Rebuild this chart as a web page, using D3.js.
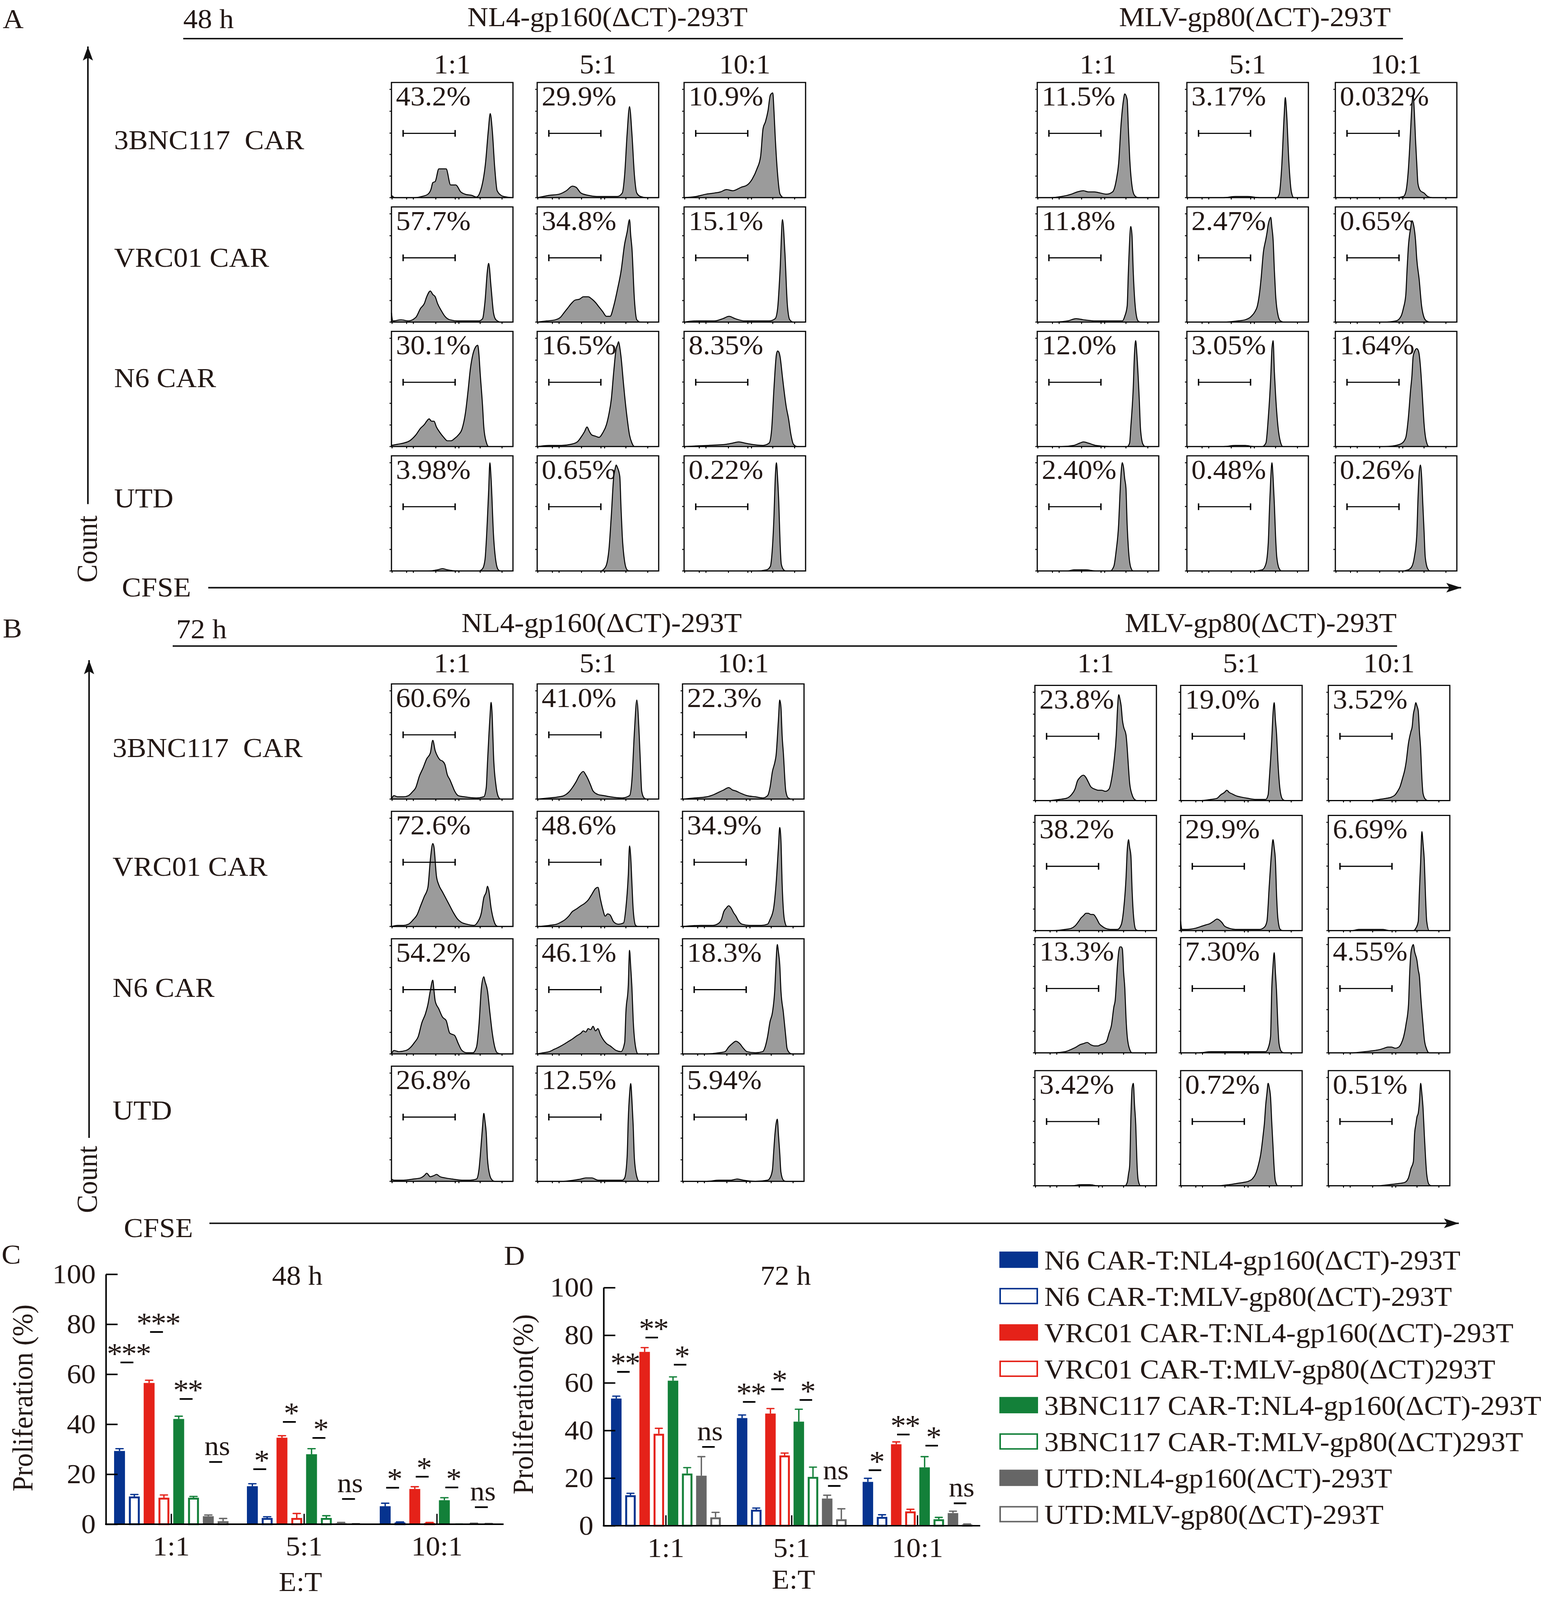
<!DOCTYPE html>
<html>
<head>
<meta charset="utf-8">
<script src="https://cdn.jsdelivr.net/npm/d3@7"></script>
<style>
  html, body { margin: 0; padding: 0; background: #fff; overflow: hidden; }
  svg { display: block; }
  svg text { font-family: "Liberation Serif", "Times New Roman", serif; fill: #231815; white-space: pre; }
</style>
</head>
<body>
<svg id="fig"></svg>
<script>
// ============================================
// Data
// ============================================
const ratios = ['1:1', '5:1', '10:1'];
const targets = ['NL4-gp160(ΔCT)-293T', 'MLV-gp80(ΔCT)-293T'];
const carRows = ['3BNC117  CAR', 'VRC01 CAR', 'N6 CAR', 'UTD'];

// gate percentages, rows = carRows, columns = NL4 1:1,5:1,10:1 then MLV 1:1,5:1,10:1
const pct48 = [
    ['43.2%', '29.9%', '10.9%', '11.5%', '3.17%', '0.032%'],
    ['57.7%', '34.8%', '15.1%', '11.8%', '2.47%', '0.65%'],
    ['30.1%', '16.5%', '8.35%', '12.0%', '3.05%', '1.64%'],
    ['3.98%', '0.65%', '0.22%', '2.40%', '0.48%', '0.26%'],
];
const pct72 = [
    ['60.6%', '41.0%', '22.3%', '23.8%', '19.0%', '3.52%'],
    ['72.6%', '48.6%', '34.9%', '38.2%', '29.9%', '6.69%'],
    ['54.2%', '46.1%', '18.3%', '13.3%', '7.30%', '4.55%'],
    ['26.8%', '12.5%', '5.94%', '3.42%', '0.72%', '0.51%'],
];

// CFSE histograms: [CFSE (0-100 of axis), count (% of frame height)]
const hist48 = [
    [
        [[0,2],[3,0],[19,0],[25,1],[30,3],[32.6,7.5],[34,13],[36,14],[39,25],[45,25],[48.7,11],[53,11],[57,5],[61.5,2.7],[66,2],[70,0.5],[73,5],[77.5,31],[79.7,58],[81.3,73],[83,58],[85,26],[87,6],[91,1.5],[95,0.5],[100,0]],
        [[0,0],[5,1],[10,2],[18,3],[24,6],[29,10],[32,9],[36,4],[42,2],[50,1],[58,1],[66,1],[70,4],[72,20],[74,55],[76,79],[78,55],[80,20],[82,4],[85,1],[90,0],[100,0]],
        [[0,0],[10,1],[18,3],[25,4],[30,5],[35,7],[40,6],[47,9],[52,11],[56,16],[60,25],[63,36],[65,60],[67,66],[69,75],[71,89],[73,91],[74,75],[75,53],[77,20],[79,3],[82,0],[100,0]],
        [[0,0],[10,0],[20,1],[28,3],[33,5],[38,6],[42,5],[47,5],[52,4],[57,3],[62,5],[65,15],[67,30],[69,64],[71,85],[72,90],[74,85],[75,60],[76,36],[78,10],[80,2],[83,0],[100,0]],
        [[0,0],[30,0],[40,1],[50,1],[60,0],[74,0],[76,3],[78,26],[80,70],[81,87],[82,75],[84,30],[86,5],[88,0],[100,0]],
        [[0,0],[50,0],[56,1],[58,5],[60,23],[62,60],[63,80],[64,89],[65,75],[66,50],[67,30],[68,12],[70,6],[73,4],[76,1],[80,0],[100,0]],
    ],
    [
        [[0,8],[1,1],[8,2],[14,1],[20,4],[24,12],[27,16],[29,22],[32,27],[34,24],[36,22],[38,16],[41,10],[44,5],[48,2],[55,1],[65,1],[72,1],[75,3],[77,18],[79,45],[80,51],[82,30],[84,8],[86,2],[90,0],[100,0]],
        [[0,0],[8,1],[15,2],[19,4],[22,8],[25,12],[28,16],[31,19],[35,20],[38,22],[42,22],[45,20],[48,17],[51,13],[54,9],[57,5],[60,5],[63,14],[66,28],[69,44],[72,68],[74,78],[76,89],[77,75],[78,64],[80,20],[82,2],[85,0],[100,0]],
        [[0,0],[10,1],[25,1],[32,3],[37,5],[42,3],[50,1],[60,1],[70,1],[75,3],[77,12],[79,45],[81,89],[83,60],[85,15],[87,2],[90,0],[100,0]],
        [[0,0],[15,0],[25,1],[32,3],[38,2],[48,1],[60,1],[70,1],[72,5],[74,14],[75,44],[77,83],[78,75],[79,44],[81,10],[83,1],[85,0],[100,0]],
        [[0,0],[30,0],[42,1],[48,2],[53,5],[56,9],[58,14],[60,27],[61,37],[63,61],[65,72],[66,78],[67,85],[68,89],[69,91],[70,82],[71,71],[72,45],[73,24],[75,6],[77,1],[80,0],[100,0]],
        [[0,0],[40,0],[50,1],[54,5],[56,12],[58,24],[59,45],[60,64],[62,82],[63,88],[64,86],[66,71],[67,55],[69,37],[71,14],[73,4],[75,1],[78,0],[100,0]],
    ],
    [
        [[0,1],[5,2],[10,3],[15,5],[20,10],[24,16],[27,19],[29,22],[31,24],[33,22],[35,22],[37,17],[40,12],[43,8],[46,5],[49,5],[52,7],[55,10],[58,15],[61,30],[63,48],[65,68],[67,80],[69,86],[71,88],[72,80],[73,64],[75,35],[76,17],[78,4],[80,0],[100,0]],
        [[0,0],[10,1],[20,1],[28,2],[33,4],[36,8],[39,13],[41,17],[43,13],[45,10],[48,9],[51,8],[54,12],[57,19],[59,28],[61,41],[63,65],[65,85],[66,88],[67,91],[68,86],[69,78],[71,55],[72,44],[74,25],[76,10],[78,3],[80,0],[100,0]],
        [[0,0],[20,1],[35,2],[40,3],[45,4],[50,3],[55,2],[65,1],[70,3],[72,14],[74,51],[76,80],[77,83],[78,82],[79,78],[81,60],[82,51],[84,35],[86,24],[88,10],[90,2],[93,0],[100,0]],
        [[0,0],[20,0],[30,1],[35,3],[38,4],[42,3],[48,1],[60,0],[74,0],[76,3],[77,17],[79,51],[80,80],[81,92],[82,80],[84,40],[85,15],[87,2],[89,0],[100,0]],
        [[0,0],[30,0],[40,1],[48,1],[55,0],[62,0],[65,3],[67,25],[69,60],[70,85],[71,92],[72,65],[73,45],[75,17],[77,4],[79,0],[100,0]],
        [[0,0],[40,0],[50,1],[55,3],[58,8],[60,24],[62,50],[63,61],[64,78],[65,82],[67,85],[68,84],[69,80],[70,70],[71,55],[72,37],[73,20],[75,4],[77,0],[100,0]],
    ],
    [
        [[0,0],[30,0],[38,1],[42,2],[46,1],[55,0],[72,0],[75,2],[77,10],[78,25],[80,70],[81,94],[82,80],[84,31],[86,8],[88,1],[90,0],[100,0]],
        [[0,0],[40,0],[52,0],[56,3],[58,10],[59,18],[61,48],[63,82],[64,88],[65,92],[66,90],[68,82],[69,55],[70,31],[72,8],[74,1],[76,0],[100,0]],
        [[0,0],[60,0],[68,1],[71,4],[72,11],[74,48],[75,80],[76,94],[77,80],[78,58],[79,25],[80,6],[82,1],[84,0],[100,0]],
        [[0,0],[25,0],[30,1],[40,1],[48,0],[60,0],[63,4],[65,18],[67,41],[68,65],[69,85],[70,94],[71,90],[72,80],[73,72],[74,40],[75,20],[77,3],[79,0],[100,0]],
        [[0,0],[55,0],[62,1],[65,6],[67,25],[68,55],[69,80],[70,94],[71,80],[72,58],[73,30],[74,12],[76,2],[78,0],[100,0]],
        [[0,0],[55,0],[60,1],[63,4],[65,12],[67,31],[68,62],[69,85],[70,92],[71,82],[72,58],[73,35],[74,12],[76,2],[78,0],[100,0]],
    ],
];

const hist72 = [
    [
        [[0,0],[2,3],[5,2],[10,2],[14,3],[17,6],[20,10],[23,20],[26,27],[29,35],[32,40],[34,51],[36,42],[38,37],[40,34],[42,33],[44,30],[46,21],[48,17],[50,12],[52,7],[55,3],[60,2],[70,1],[76,2],[78,10],[79,31],[81,70],[82,84],[83,70],[84,38],[86,12],[88,2],[90,0],[100,0]],
        [[0,0],[10,1],[18,2],[22,3],[26,6],[29,10],[32,15],[35,21],[38,24],[40,21],[42,17],[44,12],[46,7],[50,4],[55,3],[60,2],[70,1],[76,3],[78,17],[80,58],[82,86],[84,55],[85,30],[86,7],[88,1],[90,0],[100,0]],
        [[0,0],[10,1],[20,2],[26,4],[30,6],[34,8],[38,10],[41,8],[44,7],[48,5],[53,3],[60,2],[66,1],[70,3],[72,10],[74,24],[76,32],[77,38],[79,70],[80,86],[81,80],[82,55],[83,40],[85,7],[87,1],[90,0],[100,0]],
        [[0,0],[10,0],[20,1],[26,2],[30,5],[33,10],[35,17],[37,20],[40,22],[42,20],[44,16],[46,12],[49,10],[52,9],[55,9],[58,8],[61,10],[63,18],[65,33],[67,57],[68,80],[69,92],[70,88],[71,82],[72,70],[73,64],[75,57],[76,45],[77,29],[78,15],[80,5],[82,1],[84,0],[100,0]],
        [[0,0],[15,0],[25,1],[30,2],[33,5],[36,7],[38,9],[40,7],[42,6],[46,4],[50,3],[55,2],[62,1],[70,1],[72,5],[73,19],[75,53],[76,75],[77,85],[78,70],[79,57],[80,35],[82,8],[84,1],[86,0],[100,0]],
        [[0,0],[20,0],[35,0],[42,1],[48,2],[52,3],[55,5],[57,8],[59,12],[61,19],[63,27],[64,33],[66,50],[68,60],[69,64],[70,75],[71,80],[72,85],[73,82],[74,78],[75,60],[76,45],[77,20],[78,6],[80,1],[82,0],[100,0]],
    ],
    [
        [[0,0],[5,1],[10,1],[14,2],[18,6],[21,10],[24,18],[27,26],[30,34],[32,58],[34,72],[35,69],[37,44],[39,36],[42,30],[45,24],[48,18],[51,12],[54,7],[57,4],[62,2],[68,1],[71,4],[74,12],[76,25],[78,30],[79,35],[80,32],[82,16],[84,6],[86,1],[88,0],[100,0]],
        [[0,0],[10,1],[16,2],[20,4],[23,6],[26,9],[29,13],[32,15],[36,18],[39,20],[42,23],[45,28],[48,33],[50,34],[52,24],[54,15],[56,9],[58,11],[60,10],[63,4],[67,2],[71,3],[73,16],[75,45],[76,70],[77,60],[78,37],[79,15],[81,1],[83,0],[100,0]],
        [[0,0],[15,1],[25,1],[30,3],[32,6],[34,13],[36,16],[38,18],[40,16],[42,12],[44,9],[46,5],[49,2],[55,1],[65,1],[70,2],[72,6],[75,16],[77,37],[79,70],[80,86],[81,75],[82,37],[84,5],[86,0],[100,0]],
        [[0,0],[15,0],[25,1],[30,2],[33,4],[36,8],[38,11],[40,13],[42,15],[44,15],[46,14],[48,14],[51,10],[53,6],[55,4],[58,2],[62,1],[68,1],[71,5],[73,18],[75,46],[76,70],[77,79],[78,72],[79,65],[80,35],[81,15],[83,1],[85,0],[100,0]],
        [[0,8],[1,1],[5,1],[12,2],[18,4],[21,5],[24,6],[27,8],[30,10],[32,9],[34,7],[36,4],[40,2],[45,1],[55,1],[65,1],[69,3],[71,8],[73,40],[75,70],[76,79],[77,72],[78,61],[79,30],[80,11],[82,1],[84,0],[100,0]],
        [[0,0],[20,0],[25,1],[35,1],[45,1],[50,0],[70,0],[72,2],[74,8],[75,35],[76,60],[77,86],[78,75],[79,61],[80,30],[81,8],[83,0],[100,0]],
    ],
    [
        [[0,0],[2,3],[6,2],[12,3],[16,6],[19,10],[22,15],[25,27],[28,35],[30,43],[32,55],[34,64],[35,55],[36,46],[39,39],[42,32],[45,29],[48,18],[50,17],[52,16],[55,9],[58,3],[62,1],[67,1],[70,6],[72,25],[74,57],[76,67],[77,63],[79,55],[81,36],[83,18],[85,6],[87,1],[90,0],[100,0]],
        [[0,0],[5,1],[10,2],[14,4],[18,6],[23,9],[26,11],[29,13],[33,16],[36,18],[38,20],[40,19],[42,22],[44,21],[46,24],[48,20],[50,22],[52,17],[54,13],[57,9],[60,7],[65,3],[69,2],[72,10],[73,36],[75,60],[76,90],[77,75],[78,57],[79,30],[81,6],[83,0],[100,0]],
        [[0,0],[20,0],[30,1],[35,2],[38,6],[41,9],[44,11],[47,9],[50,5],[53,2],[60,1],[66,2],[68,6],[70,15],[72,28],[74,36],[76,57],[77,80],[78,95],[79,88],[80,78],[81,55],[83,36],[85,15],[86,5],[88,1],[90,0],[100,0]],
        [[0,0],[15,0],[25,1],[30,3],[34,5],[37,7],[40,8],[43,9],[46,7],[49,6],[52,6],[54,7],[57,8],[59,10],[61,17],[63,24],[65,40],[66,45],[68,77],[69,88],[70,92],[71,92],[72,90],[73,70],[74,56],[75,30],[76,14],[78,3],[80,0],[100,0]],
        [[0,0],[15,0],[25,1],[35,1],[45,1],[55,1],[65,1],[70,1],[72,4],[74,14],[75,56],[76,75],[77,87],[78,70],[79,52],[80,25],[81,8],[83,1],[85,0],[100,0]],
        [[0,0],[20,0],[30,1],[38,2],[43,3],[46,4],[49,5],[52,5],[55,4],[58,5],[60,8],[62,14],[64,25],[66,42],[67,70],[68,87],[69,92],[70,94],[71,88],[73,80],[74,72],[75,66],[76,50],[78,24],[79,12],[81,3],[83,0],[100,0]],
    ],
    [
        [[0,2],[2,1],[10,1],[18,2],[24,3],[27,5],[29,7],[32,4],[35,5],[37,6],[40,4],[44,3],[50,2],[58,1],[65,1],[70,2],[72,10],[73,21],[75,48],[76,59],[77,52],[78,42],[79,20],[81,5],[83,1],[85,0],[100,0]],
        [[0,0],[20,0],[30,1],[36,2],[40,3],[45,3],[50,1],[60,1],[70,1],[72,3],[74,21],[75,55],[76,75],[77,85],[78,70],[79,49],[80,20],[82,4],[84,0],[100,0]],
        [[0,0],[20,0],[30,1],[40,1],[45,2],[50,1],[60,0],[70,1],[72,3],[74,10],[75,25],[76,40],[77,50],[78,54],[79,40],[80,25],[81,8],[83,1],[85,0],[100,0]],
        [[0,0],[30,0],[38,1],[45,1],[52,0],[74,0],[76,3],[77,10],[78,18],[79,60],[80,85],[81,89],[82,70],[83,53],[84,20],[85,5],[87,0],[100,0]],
        [[0,0],[30,0],[40,1],[46,2],[52,3],[56,4],[59,6],[62,11],[64,18],[66,28],[68,45],[69,55],[70,70],[71,80],[72,89],[73,85],[74,77],[75,55],[76,35],[77,15],[78,4],[80,0],[100,0]],
        [[0,0],[40,0],[50,1],[58,2],[63,3],[66,7],[68,15],[70,21],[71,45],[72,53],[73,60],[74,63],[75,73],[76,89],[77,80],[78,67],[79,45],[80,25],[81,10],[83,1],[85,0],[100,0]],
    ],
];

// Proliferation bar charts
const seriesNames = [
    'N6 CAR-T:NL4-gp160(ΔCT)-293T',
    'N6 CAR-T:MLV-gp80(ΔCT)-293T',
    'VRC01 CAR-T:NL4-gp160(ΔCT)-293T',
    'VRC01 CAR-T:MLV-gp80(ΔCT)293T',
    '3BNC117 CAR-T:NL4-gp160(ΔCT)-293T',
    '3BNC117 CAR-T:MLV-gp80(ΔCT)293T',
    'UTD:NL4-gp160(ΔCT)-293T',
    'UTD:MLV-gp80(ΔCT)-293T',
];
const seriesColors = ['#06338f', '#06338f', '#e52219', '#e52219', '#138039', '#138039', '#666666', '#666666'];
const seriesFilled = [true, false, true, false, true, false, true, false];

// mean per series over ratios 1:1, 5:1, 10:1
const prolif48 = [
    [29.3, 15.2, 7.2], [11.1, 2.5, 0.7], [56.5, 34.6, 14.1], [10.6, 2.5, 0.5],
    [42.1, 28.0, 9.6], [10.6, 2.5, 0.1], [3.2, 0.4, 0.3], [1.2, 0.2, 0.2],
];
const sd48 = [
    [0.9, 1.0, 1.2], [0.8, 0.5, 0.2], [1.1, 0.8, 0.9], [1.1, 1.8, 0.2],
    [1.1, 2.2, 1.0], [0.5, 0.9, 0.0], [0.5, 0.3, 0.1], [1.1, 0.0, 0.1],
];
const prolif72 = [
    [53.4, 45.2, 18.4], [12.8, 6.7, 3.7], [73.0, 47.1, 34.2], [38.6, 29.5, 6.0],
    [60.9, 43.7, 24.5], [21.9, 20.5, 2.7], [21.0, 11.4, 5.3], [3.5, 2.7, 0.5],
];
const sd72 = [
    [1.0, 1.3, 1.5], [0.8, 0.7, 0.9], [1.8, 2.1, 1.0], [2.3, 1.0, 0.9],
    [1.6, 5.2, 4.5], [2.5, 4.1, 0.8], [8.0, 1.4, 0.8], [2.1, 4.4, 0.2],
];
// significance marks per ratio for the four NL4/MLV pairs
const sig48 = [['***', '***', '**', 'ns'], ['*', '*', '*', 'ns'], ['*', '*', '*', 'ns']];
const sigLevel48 = [[64.7, 76.9, 50.1, 24.9], [22.0, 40.9, 34.5, 10.1], [14.6, 19.0, 14.7, 6.8]];
const sig72 = [['**', '**', '*', 'ns'], ['**', '*', '*', 'ns'], ['*', '**', '*', 'ns']];
const sigLevel72 = [[64.6, 79.0, 67.6, 33.1], [52.0, 57.3, 52.8, 16.7], [23.3, 38.3, 33.6, 9.4]];
const yTicks = [0, 20, 40, 60, 80, 100];

// ============================================
// Setup
// ============================================
const W = 3970;
const H = 4307;
const FS = 74;
const HIST_FILL = '#9b9b9b';

// the figure is laid out in 3970x4307 units and stretched onto whatever viewport we get
const vw = window.innerWidth || W;
const vh = window.innerHeight || H;
const svg = d3.select('#fig')
    .attr('width', vw).attr('height', vh)
    .attr('viewBox', `0 0 ${W} ${H}`)
    .attr('preserveAspectRatio', 'none');
svg.append('rect').attr('width', W).attr('height', H).attr('fill', '#fff');

function txt(g, x, y, s, anchor = 'start', size = FS) {
    return g.append('text')
        .attr('x', x).attr('y', y)
        .attr('text-anchor', anchor)
        .attr('font-size', size)
        .text(s);
}

function arrow(g, x1, y1, x2, y2) {
    g.append('line')
        .attr('x1', x1).attr('y1', y1).attr('x2', x2).attr('y2', y2)
        .attr('stroke', '#111').attr('stroke-width', 4);
    const a = Math.atan2(y2 - y1, x2 - x1) * 180 / Math.PI;
    g.append('path')
        .attr('d', 'M0,0 L-38,-13 L-30,0 L-38,13 Z')
        .attr('fill', '#111')
        .attr('transform', `translate(${x2},${y2}) rotate(${a})`);
}

// ============================================
// Flow histogram panels (A, B)
// ============================================
const BOX_W = 311;
const BOX_H = 310;
const hx = d3.scaleLinear().domain([0, 100]).range([0, BOX_W]);
const hy = d3.scaleLinear().domain([0, 100]).range([BOX_H, 0]);
const histArea = d3.area().x((d) => hx(d[0])).y0(BOX_H).y1((d) => hy(d[1])).curve(d3.curveMonotoneX);
const histLine = d3.line().x((d) => hx(d[0])).y((d) => hy(d[1])).curve(d3.curveMonotoneX);
const gate = [9.6, 52.4];

function renderHistogram(g, pts, pct) {
    txt(g, 11.5, 62, pct);

    g.append('path').attr('d', histArea(pts)).attr('fill', HIST_FILL);
    g.append('path').attr('d', histLine(pts))
        .attr('fill', 'none').attr('stroke', '#000').attr('stroke-width', 2.6)
        .attr('stroke-linejoin', 'round');

    g.append('rect')
        .attr('width', BOX_W).attr('height', BOX_H)
        .attr('fill', 'none').attr('stroke', '#000').attr('stroke-width', 3);

    // minor frame ticks
    [0, 18.7, 37.5, 56, 75, 94].forEach((v) => {
        g.append('line').attr('x1', -5).attr('x2', 0).attr('y1', hy(v)).attr('y2', hy(v))
            .attr('stroke', '#000').attr('stroke-width', 2.5);
    });
    [0.5, 12.5, 18, 36.5, 52.5, 55.5, 73, 91].forEach((v) => {
        g.append('line').attr('x1', hx(v)).attr('x2', hx(v)).attr('y1', BOX_H).attr('y2', BOX_H + 5)
            .attr('stroke', '#000').attr('stroke-width', 2.5);
    });

    // proliferation gate
    const gy = BOX_H * 0.442;
    g.append('line').attr('x1', hx(gate[0])).attr('x2', hx(gate[1])).attr('y1', gy).attr('y2', gy)
        .attr('stroke', '#000').attr('stroke-width', 3);
    gate.forEach((v) => {
        g.append('line').attr('x1', hx(v)).attr('x2', hx(v)).attr('y1', gy - 9).attr('y2', gy + 9)
            .attr('stroke', '#000').attr('stroke-width', 3.5);
    });
}

function renderFlowPanel(cfg) {
    const { lay, hist, pct } = cfg;
    const g = svg.append('g');

    txt(g, lay.letter[0], lay.letter[1], cfg.letter);
    txt(g, lay.time[0], lay.time[1], cfg.time);
    targets.forEach((t, i) => txt(g, lay.titleX[i], lay.titleY, t, 'middle'));
    g.append('line')
        .attr('x1', lay.rule.x1).attr('x2', lay.rule.x2).attr('y1', lay.rule.y).attr('y2', lay.rule.y)
        .attr('stroke', '#111').attr('stroke-width', 4);

    lay.cols.forEach((cx, ci) => txt(g, cx + BOX_W / 2, lay.headY, ratios[ci % 3], 'middle'));
    carRows.forEach((r, ri) => txt(g, lay.rowLabelX, lay.rowLabelY[ri], r));

    carRows.forEach((r, ri) => {
        lay.cols.forEach((cx, ci) => {
            const top = ci < 3 ? lay.rowsL[ri] : lay.rowsR[ri];
            const cell = g.append('g').attr('transform', `translate(${cx},${top})`);
            renderHistogram(cell, hist[ri][ci], pct[ri][ci]);
        });
    });

    arrow(g, lay.vArrow.x, lay.vArrow.y1, lay.vArrow.x, lay.vArrow.y2);
    g.append('text')
        .attr('transform', `translate(${lay.count[0]},${lay.count[1]}) rotate(-90)`)
        .attr('text-anchor', 'middle').attr('font-size', FS).text('Count');
    txt(g, lay.cfse[0], lay.cfse[1], 'CFSE');
    arrow(g, lay.hArrow.x1, lay.hArrow.y, lay.hArrow.x2, lay.hArrow.y);
}

renderFlowPanel({
    letter: 'A', time: '48 h', hist: hist48, pct: pct48,
    lay: {
        letter: [7, 76], time: [469, 76], titleX: [1555, 3212], titleY: 70,
        rule: { y: 104, x1: 469, x2: 3591 }, headY: 198,
        cols: [1002, 1375, 1751, 2655, 3038, 3418],
        rowsL: [222, 557, 892, 1227], rowsR: [222, 557, 892, 1227],
        rowLabelX: 292, rowLabelY: [402, 718, 1042, 1366],
        vArrow: { x: 225, y1: 1357, y2: 125 }, count: [248, 1478],
        cfse: [312, 1606], hArrow: { y: 1582, x1: 533, x2: 3740 },
    },
});

renderFlowPanel({
    letter: 'B', time: '72 h', hist: hist72, pct: pct72,
    lay: {
        letter: [7, 1716], time: [451, 1718], titleX: [1540, 3227], titleY: 1701,
        rule: { y: 1739, x1: 442, x2: 3576 }, headY: 1810,
        cols: [1002, 1375, 1747, 2649, 3022, 3400],
        rowsL: [1841, 2184, 2527, 2870], rowsR: [1845, 2195, 2524, 2882],
        rowLabelX: 288, rowLabelY: [2038, 2358, 2683, 3014],
        vArrow: { x: 228, y1: 3063, y2: 1777 }, count: [248, 3175],
        cfse: [317, 3330], hArrow: { y: 3293, x1: 536, x2: 3734 },
    },
});

// ============================================
// Grouped bar charts (C, D)
// ============================================
function renderBars(cfg) {
    const { lay } = cfg;
    const g = svg.append('g');

    const y = d3.scaleLinear().domain([0, 100]).range([lay.y0, lay.y100]);
    const padIn = (lay.groupStep - lay.groupW) / lay.groupStep;
    const x0 = d3.scaleBand().domain(ratios)
        .range([lay.groupX, lay.groupX + lay.groupStep * (ratios.length - padIn)])
        .paddingInner(padIn);
    const x1 = d3.scaleBand().domain(d3.range(seriesNames.length))
        .range([0, lay.groupW]).paddingInner(1 - lay.barW / lay.barStep);
    const bw = x1.bandwidth();

    txt(g, lay.letter[0], lay.letter[1], cfg.letter);
    txt(g, lay.title[0], lay.title[1], cfg.title, 'middle');
    g.append('text')
        .attr('transform', `translate(${lay.yLabel[0]},${lay.yLabel[1]}) rotate(-90)`)
        .attr('text-anchor', 'middle').attr('font-size', FS).text(cfg.yLabel);

    // bars and error bars
    cfg.values.forEach((vals, si) => {
        const col = seriesColors[si];
        vals.forEach((v, gi) => {
            const bx = x0(ratios[gi]) + x1(si);
            const cx = bx + bw / 2;
            const top = y(v + cfg.sds[si][gi]);
            g.append('line').attr('x1', cx).attr('x2', cx).attr('y1', y(v)).attr('y2', top)
                .attr('stroke', col).attr('stroke-width', 3.5);
            g.append('line').attr('x1', cx - bw * 0.33).attr('x2', cx + bw * 0.33).attr('y1', top).attr('y2', top)
                .attr('stroke', col).attr('stroke-width', 3.5).attr('stroke-linecap', 'round');
            if (seriesFilled[si]) {
                g.append('rect').attr('x', bx).attr('y', y(v)).attr('width', bw)
                    .attr('height', lay.y0 - y(v)).attr('fill', col);
            } else {
                const hgt = Math.max(0, lay.y0 - y(v) - 2.5);
                g.append('rect').attr('x', bx + 2.5).attr('y', lay.y0 - hgt).attr('width', bw - 5)
                    .attr('height', hgt).attr('fill', '#fff').attr('stroke', col).attr('stroke-width', 5);
            }
        });
    });

    // significance marks
    cfg.sig.forEach((marks, gi) => {
        marks.forEach((m, pi) => {
            const cx = x0(ratios[gi]) + (x1(pi * 2) + x1(pi * 2 + 1)) / 2 + bw / 2;
            const ly = y(cfg.sigLevel[gi][pi]);
            g.append('line').attr('x1', cx - lay.dash / 2).attr('x2', cx + lay.dash / 2)
                .attr('y1', ly).attr('y2', ly).attr('stroke', '#000').attr('stroke-width', 4.5);
            if (m === 'ns') {
                txt(g, cx + 4, ly - 18, m, 'middle');
            } else {
                txt(g, cx + 4, ly + 3, m, 'middle', 80).attr('letter-spacing', -3);
            }
        });
    });

    // axes
    const yAxis = g.append('g').attr('transform', `translate(${lay.axisX},0)`)
        .call(d3.axisLeft(y).tickValues(yTicks).tickSizeInner(-30).tickSizeOuter(0).tickPadding(26));
    yAxis.select('.domain').attr('stroke', '#000').attr('stroke-width', 4);
    yAxis.selectAll('.tick line').attr('stroke', '#000').attr('stroke-width', 4);
    yAxis.selectAll('.tick text').attr('font-size', FS).attr('font-family', null).attr('fill', null);

    g.append('line').attr('x1', lay.axisX - 2).attr('x2', lay.xEnd).attr('y1', lay.y0).attr('y2', lay.y0)
        .attr('stroke', '#000').attr('stroke-width', 4);
    const xAxis = g.append('g').attr('transform', `translate(0,${lay.y0})`)
        .call(d3.axisBottom(x0).tickSizeInner(-28).tickSizeOuter(0).tickPadding(32));
    xAxis.select('.domain').remove();
    xAxis.selectAll('.tick line').attr('stroke', '#000').attr('stroke-width', 3.3);
    xAxis.selectAll('.tick text').attr('font-size', FS).attr('font-family', null).attr('fill', null);

    txt(g, lay.et[0], lay.et[1], 'E:T', 'middle');
}

renderBars({
    letter: 'C', title: '48 h', yLabel: 'Proliferation (%)',
    values: prolif48, sds: sd48, sig: sig48, sigLevel: sigLevel48,
    lay: {
        letter: [4, 3402], title: [761, 3458], yLabel: [83, 3763],
        axisX: 271, xEnd: 1289, y0: 4103, y100: 3430,
        groupX: 292, groupStep: 340, groupW: 293, barW: 28, barStep: 38,
        dash: 33, et: [769, 4283],
    },
});

renderBars({
    letter: 'D', title: '72 h', yLabel: 'Proliferation(%)',
    values: prolif72, sds: sd72, sig: sig72, sigLevel: sigLevel72,
    lay: {
        letter: [1290, 3405], title: [2011, 3458], yLabel: [1364, 3780],
        axisX: 1545, xEnd: 2509, y0: 4107, y100: 3466,
        groupX: 1564, groupStep: 322, groupW: 281, barW: 27, barStep: 36.4,
        dash: 32, et: [2031, 4277],
    },
});

// ============================================
// Legend
// ============================================
const legend = svg.append('g');
const ly = d3.scalePoint().domain(d3.range(seriesNames.length)).range([3391, 4076]);
seriesNames.forEach((name, i) => {
    const cy = ly(i);
    if (seriesFilled[i]) {
        legend.append('rect').attr('x', 2558).attr('y', cy - 22).attr('width', 99).attr('height', 44)
            .attr('fill', seriesColors[i]);
    } else {
        legend.append('rect').attr('x', 2560).attr('y', cy - 20).attr('width', 95).attr('height', 40)
            .attr('fill', '#fff').attr('stroke', seriesColors[i]).attr('stroke-width', 4);
    }
    txt(legend, 2673, cy + 26, name);
});
</script>
</body>
</html>
